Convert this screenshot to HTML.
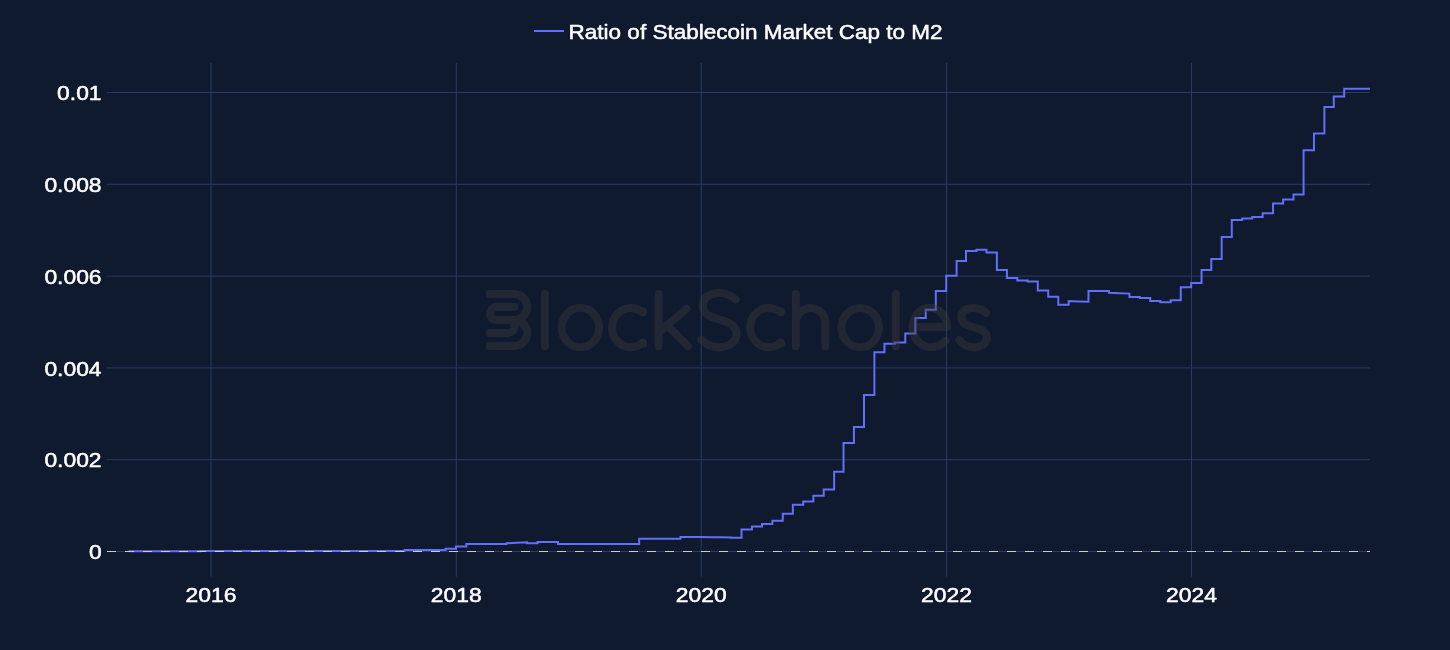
<!DOCTYPE html><html><head><meta charset="utf-8"><title>Ratio of Stablecoin Market Cap to M2</title><style>
html,body{margin:0;padding:0;background:#101a2e}
#c{position:relative;width:1450px;height:650px;overflow:hidden;background:#101a2e;font-family:"Liberation Sans",sans-serif}
</style></head><body><div id="c">
<svg width="1450" height="650" viewBox="0 0 1450 650" style="position:absolute;left:0;top:0;will-change:transform">
<line x1="211.00" x2="211.00" y1="63" y2="576.6" stroke="#293a64" stroke-width="1"/>
<line x1="456.29" x2="456.29" y1="63" y2="576.6" stroke="#293a64" stroke-width="1"/>
<line x1="701.25" x2="701.25" y1="63" y2="576.6" stroke="#293a64" stroke-width="1"/>
<line x1="946.54" x2="946.54" y1="63" y2="576.6" stroke="#293a64" stroke-width="1"/>
<line x1="1191.50" x2="1191.50" y1="63" y2="576.6" stroke="#293a64" stroke-width="1"/>
<line x1="107" x2="1370" y1="92.5" y2="92.5" stroke="#293a64" stroke-width="1"/>
<line x1="107" x2="1370" y1="184.3" y2="184.3" stroke="#293a64" stroke-width="1"/>
<line x1="107" x2="1370" y1="276.1" y2="276.1" stroke="#293a64" stroke-width="1"/>
<line x1="107" x2="1370" y1="367.9" y2="367.9" stroke="#293a64" stroke-width="1"/>
<line x1="107" x2="1370" y1="459.7" y2="459.7" stroke="#293a64" stroke-width="1"/>
<line x1="107" x2="1370" y1="551.5" y2="551.5" stroke="#293a64" stroke-width="1"/>
<path d="M128.45,551.20H138.86V551.19H148.92V551.18H159.32V551.17H169.73V551.15H179.79V551.14H190.20V551.13H200.26V551.12H210.66V551.11H221.07V551.10H230.80V551.08H241.20V551.07H251.27V551.06H261.67V551.05H271.74V551.04H282.14V551.03H292.54V551.02H302.61V551.00H313.01V550.99H323.08V550.98H333.48V550.97H343.88V550.96H353.28V550.95H363.68V550.93H373.75V550.92H384.15V550.91H394.21V550.90H404.62V550.00H415.02H425.09H435.49H445.55V548.80H455.96V546.50H466.36V543.90H475.76H486.16H496.22H506.63V543.25L516.69,542.78V542.78L527.10,542.30V543.20H537.50V541.90H547.56H557.97V544.10H568.03H578.44H588.84H598.23H608.64H618.70H629.11H639.17V538.80H649.57H659.98H670.04H680.45V536.90L690.51,537.00V537.00L700.91,537.10V537.10L711.32,537.20V537.20L721.05,537.30V537.30L731.45,537.40V537.80H741.52V529.50H751.92V526.40H761.99V523.90H772.39V520.70H782.79V513.80H792.86V504.80H803.26V501.60H813.33V495.80H823.73V489.60H834.13V471.80H843.53V443.00H853.93V426.90H864.00V395.00H874.40V352.20H884.46V343.80H894.87V342.40H905.27V333.40H915.34V317.90H925.74V309.80H935.80V290.90H946.21V275.80H956.61V260.90H966.01V251.10H976.41V249.70H986.47V252.40H996.88V269.90H1006.94V278.10H1017.35V280.60H1027.75V281.60H1037.81V290.40H1048.22V296.70H1058.28V304.80H1068.69V301.00L1079.09,301.42V301.42L1088.48,301.80V291.05H1098.89H1108.95V292.70L1119.36,293.16V293.16L1129.42,293.60V297.10H1139.82V298.10H1150.23V301.00H1160.29V302.30H1170.70V300.20H1180.76V287.20H1191.16V282.90H1201.57V269.90H1211.30V259.00H1221.70V236.90H1231.77V220.10H1242.17V218.60H1252.24V216.90H1262.64V213.20H1273.04V203.60H1283.11V199.60H1293.51V194.40H1303.58V150.30H1313.98V133.50H1324.38V107.10H1333.78V96.40H1344.18V88.80H1354.25H1364.65H1370" fill="none" stroke="#636efa" stroke-width="2" stroke-linejoin="miter"/>
<line x1="107" x2="1370" y1="551.5" y2="551.5" stroke="#cbcbcb" stroke-width="1" stroke-dasharray="9,9" shape-rendering="crispEdges"/>
<g opacity="0.4" fill="none" stroke="#3e3c3c" stroke-width="8" stroke-linecap="round" stroke-linejoin="round"><path d="M489.7,294.05 H514.2 A13,13 0 0,1 514.2,320.05 A13,13 0 0,1 514.2,346.1 H489.7"/><path d="M514.3,307.1 H495.9 A6.5,6.5 0 0,0 495.9,320.05 H514.2 M507.8,320.05 A6.5,6.5 0 0,1 507.8,333.1 H489.7"/><path d="M544.9,294 V346.2"/><path d="M561.70,327.55 A18.70,19.65 0 1,0 599.10,327.55 A18.70,19.65 0 1,0 561.70,327.55 Z"/><path d="M643,311.4 L642.8,312.5 A18.7,19.65 0 1,0 642.8,342.6 L643.1,343.7"/><path d="M658.7,294 V346.2 M686.8,308.7 L658.7,332.2 M669.3,327.4 L688,346.1"/><path d="M735.6,299.5 C731.5,295.5 726,293 719.5,293 C709.5,293 702.7,298 702.7,305.6 C702.7,314 710,316.8 719.2,319.4 C729,322.2 736.5,325.5 736.5,333.6 C736.5,341.7 729.5,347.2 719.3,347.2 C711.5,347.2 705.5,344.2 701.3,339.9"/><path d="M780.9,311.6 L780.8,312.5 A18.7,19.65 0 1,0 780.8,342.6 L781.1,343.5"/><path d="M795.8,294 V346.2 M795.8,322.8 A14.8,14.8 0 0,1 825.4,322.8 V346.2"/><path d="M841.50,327.55 A18.70,19.65 0 1,0 878.90,327.55 A18.70,19.65 0 1,0 841.50,327.55 Z"/><path d="M895.8,294 V346.2"/><path d="M912.7,327.1 H947 A17.15,19.3 0 0,0 912.7,327.1 C912.7,338.5 920.5,347.2 931,347.2 C937,347.2 941.8,345 945.3,341"/><path d="M986.2,313 C983,309.8 978.8,308 973.5,308 C966,308 961.3,311.6 961.3,317 C961.3,323.2 966.5,325.2 973,327 C980.5,329 986.9,331.2 986.9,337.4 C986.9,343.4 981.5,347.2 973.5,347.2 C967.5,347.2 962.8,344.5 959.3,339.9"/></g>
<line x1="534" x2="564" y1="31" y2="31" stroke="#636efa" stroke-width="2"/>
<g font-family="Liberation Sans, sans-serif" font-size="20.9" fill="#ffffff" stroke="#ffffff" stroke-width="0.5" stroke-linejoin="round">
<text x="101.60" y="100.20" text-anchor="end" textLength="44.50" lengthAdjust="spacingAndGlyphs">0.01</text>
<text x="101.60" y="192.00" text-anchor="end" textLength="57.20" lengthAdjust="spacingAndGlyphs">0.008</text>
<text x="101.60" y="283.80" text-anchor="end" textLength="57.20" lengthAdjust="spacingAndGlyphs">0.006</text>
<text x="101.60" y="375.60" text-anchor="end" textLength="57.20" lengthAdjust="spacingAndGlyphs">0.004</text>
<text x="101.60" y="467.40" text-anchor="end" textLength="57.20" lengthAdjust="spacingAndGlyphs">0.002</text>
<text x="101.60" y="559.20" text-anchor="end" textLength="12.70" lengthAdjust="spacingAndGlyphs">0</text>
<text x="211.00" y="601.90" text-anchor="middle" textLength="50.90" lengthAdjust="spacingAndGlyphs">2016</text>
<text x="456.29" y="601.90" text-anchor="middle" textLength="50.90" lengthAdjust="spacingAndGlyphs">2018</text>
<text x="701.25" y="601.90" text-anchor="middle" textLength="50.90" lengthAdjust="spacingAndGlyphs">2020</text>
<text x="946.54" y="601.90" text-anchor="middle" textLength="50.90" lengthAdjust="spacingAndGlyphs">2022</text>
<text x="1191.50" y="601.90" text-anchor="middle" textLength="50.90" lengthAdjust="spacingAndGlyphs">2024</text>
<text font-size="20.7" x="568.60" y="38.80" text-anchor="start" textLength="373.90" lengthAdjust="spacingAndGlyphs">Ratio of Stablecoin Market Cap to M2</text>
</g>
</svg>
</div></body></html>
